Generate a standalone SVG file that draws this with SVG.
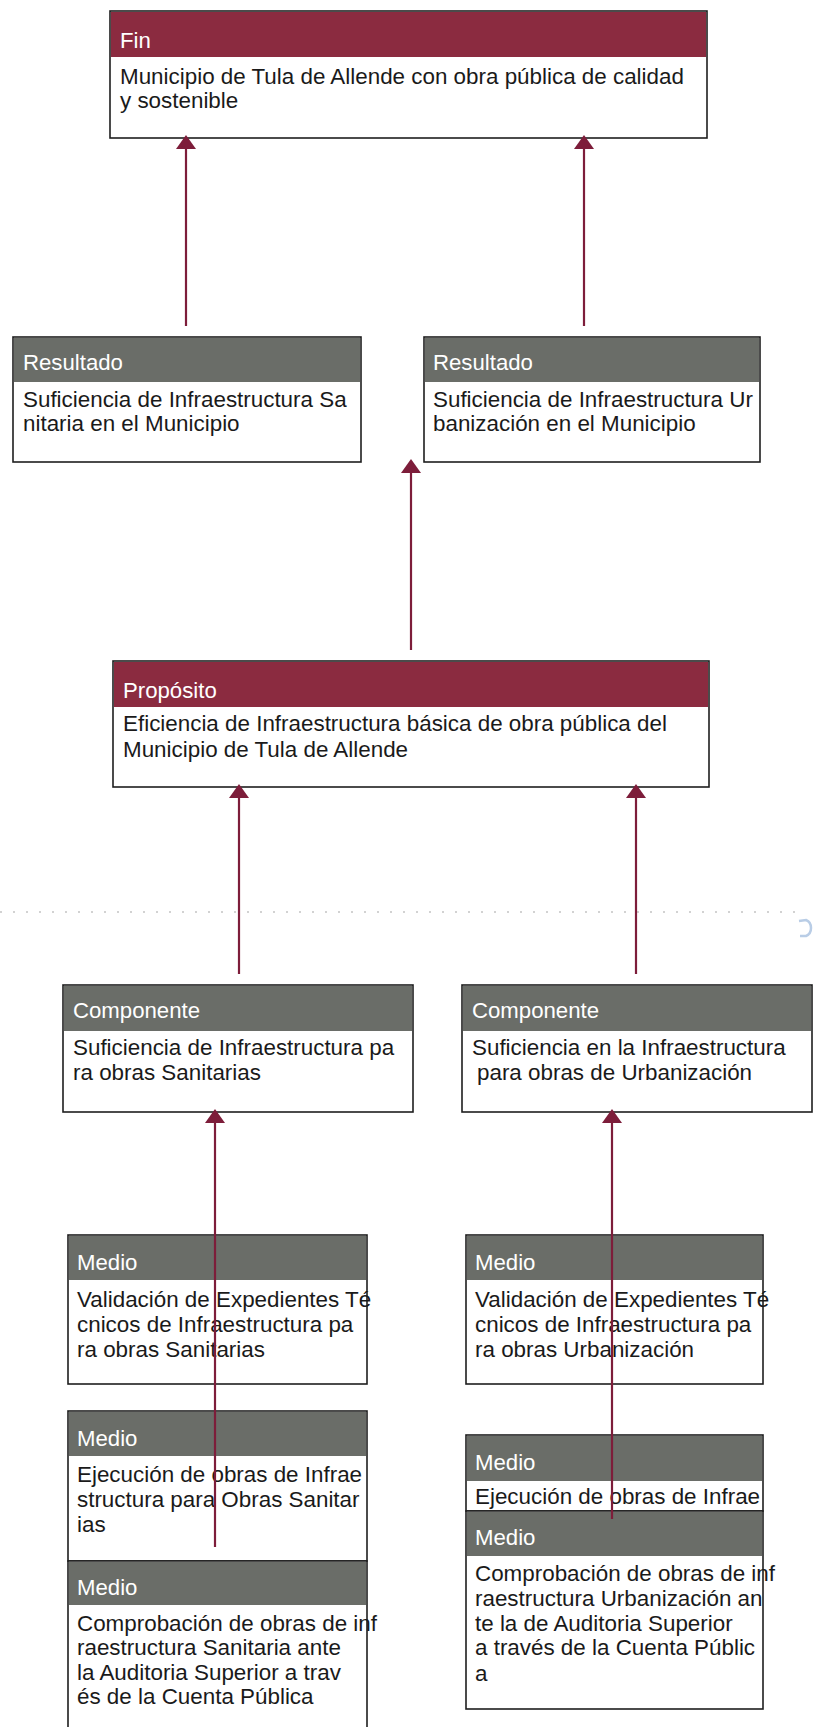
<svg xmlns="http://www.w3.org/2000/svg" width="817" height="1727" viewBox="0 0 817 1727">
<defs>
<style>
.box{fill:#fff;stroke:#1e1e1e;stroke-width:1.6}
.hr{fill:#8b2b40}
.hg{fill:#6a6d68}
.ht{font-family:"Liberation Sans",Arial,sans-serif;font-size:22.2px;fill:#fff}
.bt{font-family:"Liberation Sans",Arial,sans-serif;font-size:22.4px;fill:#1a1a1a}
.ln{stroke:#7d1d3a;stroke-width:2.2;fill:none}
</style>
<marker id="ah" viewBox="0 0 20 14" refX="10" refY="14" markerWidth="20" markerHeight="14" markerUnits="userSpaceOnUse" orient="0">
<path d="M0,14 L10,0 L20,14 Z" fill="#7d1d3a"/>
</marker>
</defs>
<rect width="817" height="1727" fill="#fff"/>

<g id="fin">
<rect class="box" x="110" y="11" width="597" height="127"/>
<rect class="hr" x="111" y="12" width="595" height="45"/>
<text class="ht" x="120" y="48">Fin</text>
<text class="bt" x="120" y="84">Municipio de Tula de Allende con obra pública de calidad</text>
<text class="bt" x="120" y="108">y sostenible</text>
</g>

<g id="resultado1">
<rect class="box" x="13" y="337" width="348" height="125"/>
<rect class="hg" x="14" y="338" width="346" height="44"/>
<text class="ht" x="23" y="370">Resultado</text>
<text class="bt" x="23" y="407">Suficiencia de Infraestructura Sa</text>
<text class="bt" x="23" y="431">nitaria en el Municipio</text>
</g>

<g id="resultado2">
<rect class="box" x="424" y="337" width="336" height="125"/>
<rect class="hg" x="425" y="338" width="334" height="44"/>
<text class="ht" x="433" y="370">Resultado</text>
<text class="bt" x="433" y="407">Suficiencia de Infraestructura Ur</text>
<text class="bt" x="433" y="431">banización en el Municipio</text>
</g>

<g id="proposito">
<rect class="box" x="113" y="661" width="596" height="126"/>
<rect class="hr" x="114" y="662" width="594" height="45"/>
<text class="ht" x="123" y="698">Propósito</text>
<text class="bt" x="123" y="731">Eficiencia de Infraestructura básica de obra pública del</text>
<text class="bt" x="123" y="757">Municipio de Tula de Allende</text>
</g>

<g id="fondo">
<line x1="0" y1="912" x2="795" y2="912" stroke="#c4c4c4" stroke-width="1.5" stroke-dasharray="2 11"/>
<path d="M799,921 L806,920 Q811,922 811,928 Q811,934 806,936 L800,936" fill="none" stroke="#b9cde6" stroke-width="2.5"/>
</g>

<g id="componente1">
<rect class="box" x="63" y="985" width="350" height="127"/>
<rect class="hg" x="64" y="986" width="348" height="45"/>
<text class="ht" x="73" y="1018">Componente</text>
<text class="bt" x="73" y="1055">Suficiencia de Infraestructura pa</text>
<text class="bt" x="73" y="1080">ra obras Sanitarias</text>
</g>

<g id="componente2">
<rect class="box" x="462" y="985" width="350" height="127"/>
<rect class="hg" x="463" y="986" width="348" height="45"/>
<text class="ht" x="472" y="1018">Componente</text>
<text class="bt" x="472" y="1055">Suficiencia en la Infraestructura</text>
<text class="bt" x="477" y="1080">para obras de Urbanización</text>
</g>

<g id="medio1">
<rect class="box" x="68" y="1235" width="299" height="149"/>
<rect class="hg" x="69" y="1236" width="297" height="44"/>
<text class="ht" x="77" y="1270">Medio</text>
<text class="bt" x="77" y="1307">Validación de Expedientes Té</text>
<text class="bt" x="77" y="1332">cnicos de Infraestructura pa</text>
<text class="bt" x="77" y="1357">ra obras Sanitarias</text>
</g>

<g id="medio2">
<rect class="box" x="466" y="1235" width="297" height="149"/>
<rect class="hg" x="467" y="1236" width="295" height="44"/>
<text class="ht" x="475" y="1270">Medio</text>
<text class="bt" x="475" y="1307">Validación de Expedientes Té</text>
<text class="bt" x="475" y="1332">cnicos de Infraestructura pa</text>
<text class="bt" x="475" y="1357">ra obras Urbanización</text>
</g>

<g id="medio3">
<rect class="box" x="68" y="1411" width="299" height="150"/>
<rect class="hg" x="69" y="1412" width="297" height="44"/>
<text class="ht" x="77" y="1446">Medio</text>
<text class="bt" x="77" y="1482">Ejecución de obras de Infrae</text>
<text class="bt" x="77" y="1507">structura para Obras Sanitar</text>
<text class="bt" x="77" y="1532">ias</text>
</g>

<g id="medio4">
<rect class="box" x="68" y="1561" width="299" height="180"/>
<rect class="hg" x="69" y="1562" width="297" height="43"/>
<text class="ht" x="77" y="1595">Medio</text>
<text class="bt" x="77" y="1631">Comprobación de obras de inf</text>
<text class="bt" x="77" y="1655">raestructura Sanitaria ante</text>
<text class="bt" x="77" y="1680">la Auditoria Superior a trav</text>
<text class="bt" x="77" y="1704">és de la Cuenta Pública</text>
</g>

<g id="medio5">
<rect class="box" x="466" y="1435" width="297" height="76"/>
<rect class="hg" x="467" y="1436" width="295" height="45"/>
<text class="ht" x="475" y="1470">Medio</text>
<text class="bt" x="475" y="1504">Ejecución de obras de Infrae</text>
</g>

<g id="medio6">
<rect class="box" x="466" y="1511" width="297" height="198"/>
<rect class="hg" x="467" y="1512" width="295" height="44"/>
<text class="ht" x="475" y="1545">Medio</text>
<text class="bt" x="475" y="1581">Comprobación de obras de inf</text>
<text class="bt" x="475" y="1606">raestructura Urbanización an</text>
<text class="bt" x="475" y="1631">te la de Auditoria Superior</text>
<text class="bt" x="475" y="1655">a través de la Cuenta Públic</text>
<text class="bt" x="475" y="1681">a</text>
</g>

<g id="connectors">
<line class="ln" x1="186" y1="326" x2="186" y2="149" marker-end="url(#ah)"/>
<line class="ln" x1="584" y1="326" x2="584" y2="149" marker-end="url(#ah)"/>
<line class="ln" x1="411" y1="650" x2="411" y2="473" marker-end="url(#ah)"/>
<line class="ln" x1="239" y1="974" x2="239" y2="798" marker-end="url(#ah)"/>
<line class="ln" x1="636" y1="974" x2="636" y2="798" marker-end="url(#ah)"/>
<line class="ln" x1="215" y1="1547" x2="215" y2="1123" marker-end="url(#ah)"/>
<line class="ln" x1="612" y1="1519" x2="612" y2="1123" marker-end="url(#ah)"/>
</g>
</svg>
